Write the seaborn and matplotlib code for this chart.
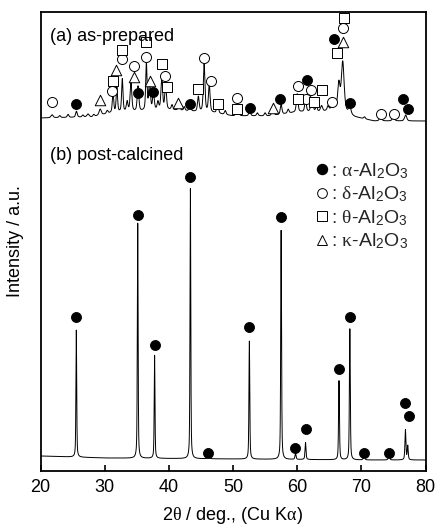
import numpy as np
import pandas as pd
import matplotlib
matplotlib.use("Agg")
import matplotlib.pyplot as plt
import seaborn as sns
from matplotlib.lines import Line2D

# ---------------- data ----------------
# (b) post-calcined: peak positions (2theta), heights above baseline, widths (deg)
b_pos = [25.58, 35.15, 37.78, 43.36, 46.18, 52.55, 57.50, 59.74, 61.30, 66.52, 68.21, 70.42, 74.30, 76.87, 77.23]
b_hgt = [127, 235, 103, 270, 3, 118, 229, 6, 17, 79, 131, 3, 3, 30, 14]
b_fwhm = [0.14, 0.14, 0.14, 0.14, 0.3, 0.15, 0.15, 0.2, 0.18, 0.16, 0.16, 0.3, 0.3, 0.18, 0.18]
b_base_x = [20, 30, 40, 50, 60, 70, 80]
b_base_y = [15, 13, 12.5, 12, 11.5, 11, 11]

# (a) as-prepared: peak positions, heights, widths
a_pos = [21.8, 23.0, 24.3, 25.6, 26.6, 27.4, 28.3, 29.3, 30.4, 31.3, 31.9, 32.75, 33.5, 34.1,
         35.2, 36.5, 37.0, 37.6, 38.3, 38.9, 39.5, 40.5, 41.6, 42.4, 43.3, 44.6, 45.5, 46.3,
         47.6, 48.8, 50.7, 52.6, 53.8, 55.0, 56.2, 57.5, 58.6, 60.0, 61.3, 62.3, 63.0, 63.8,
         64.8, 65.6, 66.5, 67.1, 68.2, 70.5, 73.0, 75.0, 76.9]
a_hgt = [3, 2, 3, 6, 2, 3, 2, 6, 3, 20, 25, 33, 10, 30,
         25, 47, 30, 18, 8, 33, 25, 5, 8, 4, 8, 15, 48, 28,
         12, 4, 8, 6, 3, 3, 6, 10, 4, 18, 12, 12, 5, 6,
         4, 6, 25, 49, 8, 2, 4, 4, 6]
a_fwhm = [0.4, 0.3, 0.3, 0.3, 0.3, 0.4, 0.3, 0.4, 0.3, 0.25, 0.25, 0.25, 0.3, 0.3,
          0.3, 0.25, 0.3, 0.3, 0.3, 0.3, 0.3, 0.3, 0.3, 0.3, 0.3, 0.3, 0.3, 0.3,
          0.3, 0.3, 0.4, 0.3, 0.3, 0.3, 0.4, 0.3, 0.3, 0.3, 0.3, 0.4, 0.3, 0.4,
          0.3, 0.4, 0.4, 0.5, 0.4, 0.3, 0.4, 0.4, 0.4]
a_base_x = [20, 28, 31, 40, 47, 50, 56, 60, 64, 66, 69, 72, 80]
a_base_y = [353, 354, 358, 361, 358, 355, 355, 359, 359, 363, 354, 350, 350]

# phase markers: (2theta, height)
alpha_x = [25.6, 35.2, 37.6, 43.3, 52.6, 57.4, 61.5, 65.8, 68.2, 76.5, 77.3,
           25.58, 35.15, 37.78, 43.36, 46.18, 52.55, 57.50, 59.74, 61.30, 66.52, 68.21, 70.42, 74.30, 76.8, 77.4]
alpha_y = [367, 378, 379, 367, 363, 372, 391, 432, 368, 372, 362,
           154, 256, 126, 294, 18, 144, 254, 23, 42, 102, 154, 18, 18, 68, 55]
delta_x = [21.8, 31.2, 32.7, 34.5, 36.5, 39.4, 45.5, 46.6, 50.6, 60.1, 62.1, 61.3, 65.5, 67.2, 73.0, 75.1]
delta_y = [369, 380, 412, 405, 414, 395, 413, 390, 373, 385, 381, 372, 369, 443, 357, 357]
theta_x = [31.3, 32.7, 36.4, 39.0, 39.7, 44.6, 47.6, 50.7, 60.1, 62.7, 63.9, 66.2, 67.35]
theta_y = [390, 421, 429, 407, 384, 382, 367, 362, 372, 369, 381, 418, 453]
kappa_x = [29.2, 31.8, 34.5, 37.0, 41.5, 56.2, 67.2]
kappa_y = [371, 401, 394, 390, 368, 363, 429]

x_ticks = [20, 30, 40, 50, 60, 70, 80]
phase_labels = [r": $\alpha$-Al$_2$O$_3$", r": $\delta$-Al$_2$O$_3$",
                r": $\theta$-Al$_2$O$_3$", r": $\kappa$-Al$_2$O$_3$"]


def pattern(x, pos, hgt, fwhm, bx, by):
    y = np.interp(x, bx, by).astype(float)
    for p, h, w in zip(pos, hgt, fwhm):
        g = np.exp(-4 * np.log(2) * ((x - p) / w) ** 2)
        l = 1.0 / (1.0 + 4 * ((x - p) / w) ** 2)
        y += h * (0.5 * g + 0.5 * l)
    return y


tt = np.arange(20.0, 80.0001, 0.01)
df = pd.concat([
    pd.DataFrame({"tt": tt, "I": pattern(tt, a_pos, a_hgt, a_fwhm, a_base_x, a_base_y), "s": "a"}),
    pd.DataFrame({"tt": tt, "I": pattern(tt, b_pos, b_hgt, b_fwhm, b_base_x, b_base_y), "s": "b"}),
])

# ---------------- style ----------------
sns.set_theme(style="white")
plt.rcParams["font.family"] = ["Liberation Sans", "DejaVu Sans"]
plt.rcParams["mathtext.fontset"] = "custom"
plt.rcParams["mathtext.rm"] = "Liberation Sans"
plt.rcParams["mathtext.it"] = "Liberation Serif"
plt.rcParams["mathtext.sf"] = "Liberation Sans"

fig = plt.figure(figsize=(4.36, 5.25), dpi=100)
ax = fig.add_axes([40.5 / 436, 1 - 471 / 525, 385 / 436, 459 / 525])

for s in ["a", "b"]:
    sns.lineplot(data=df[df.s == s], x="tt", y="I", ax=ax, color="black",
                 linewidth=0.7, estimator=None, sort=False, legend=False)

ms = 52
sns.scatterplot(x=alpha_x, y=alpha_y, ax=ax, marker="o", color="black", s=ms,
                edgecolor="black", linewidth=0.6, zorder=3, legend=False)
sns.scatterplot(x=delta_x, y=delta_y, ax=ax, marker="o", color="black", s=ms,
                facecolor="white", edgecolor="black", linewidth=0.7, zorder=3, legend=False)
sns.scatterplot(x=theta_x, y=theta_y, ax=ax, marker="s", color="black", s=ms * 0.9,
                facecolor="white", edgecolor="black", linewidth=0.7, zorder=3, legend=False)
sns.scatterplot(x=kappa_x, y=kappa_y, ax=ax, marker="^", color="black", s=ms * 1.1,
                facecolor="white", edgecolor="black", linewidth=0.7, zorder=3, legend=False)

ax.set_xlim(20, 80)
ax.set_ylim(0, 459)
ax.set_xticks(x_ticks)
ax.set_yticks([])
ax.tick_params(axis="x", direction="in", length=4, width=1.2, labelsize=13,
               colors="black", pad=6, bottom=True)
for sp in ax.spines.values():
    sp.set_color("black")
    sp.set_linewidth(1.3)

ax.set_xlabel(r"2$\theta$ / deg., (Cu K$\alpha$)", fontsize=13, color="black", labelpad=6)
ax.set_ylabel("Intensity / a.u.", fontsize=13, color="black", labelpad=12)

ax.text(0.025, 0.965, "(a) as-prepared", transform=ax.transAxes, fontsize=13,
        ha="left", va="top", color="black")
ax.text(0.025, 0.705, "(b) post-calcined", transform=ax.transAxes, fontsize=13,
        ha="left", va="top", color="black")

handles = [
    Line2D([], [], marker="o", linestyle="none", markersize=7.2, markerfacecolor="black", markeredgecolor="black"),
    Line2D([], [], marker="o", linestyle="none", markersize=7.0, markerfacecolor="white", markeredgecolor="black", markeredgewidth=0.7),
    Line2D([], [], marker="s", linestyle="none", markersize=6.8, markerfacecolor="white", markeredgecolor="black", markeredgewidth=0.7),
    Line2D([], [], marker="^", linestyle="none", markersize=7.5, markerfacecolor="white", markeredgecolor="black", markeredgewidth=0.7),
]
ax.legend(handles, phase_labels, loc="upper right", frameon=False, fontsize=14,
          handlelength=0.7, handletextpad=0.1, labelspacing=0.2, borderpad=0,
          borderaxespad=0, bbox_to_anchor=((408 - 40.5) / 385, (471 - 161) / 459))

fig.savefig("out.png", dpi=100)
